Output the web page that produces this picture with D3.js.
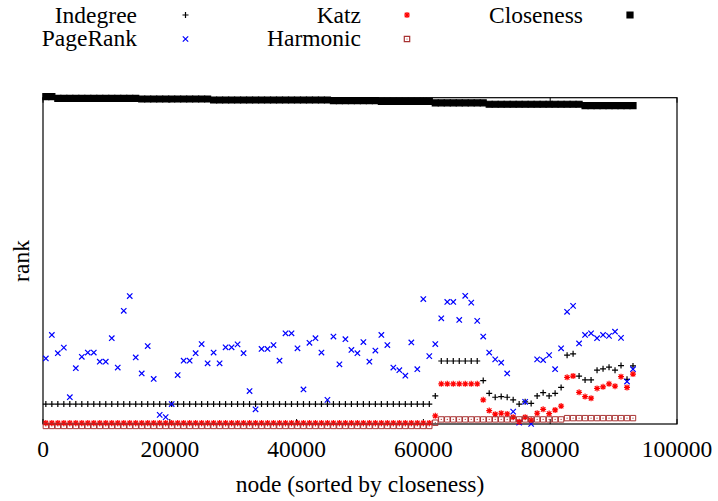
<!DOCTYPE html>
<html>
<head>
<meta charset="utf-8">
<script src="https://cdn.jsdelivr.net/npm/d3@7"></script>
<style>
  body { margin: 0; background: #fff; }
  svg, svg text { font-family: 'Liberation Serif', 'Times New Roman', 'DejaVu Serif', serif; }
</style>
</head>
<body>
<svg id="chart" width="718" height="501"></svg>
<script>
// sampled node positions (sorted by closeness)
const nodes = [
  450, 1395, 2340, 3285, 4230, 5175, 6120, 7065, 8010, 8955,
  9900, 10845, 11790, 12735, 13680, 14625, 15570, 16515, 17460, 18405,
  19350, 20295, 21240, 22185, 23130, 24075, 25020, 25965, 26910, 27855,
  28800, 29745, 30690, 31635, 32580, 33525, 34470, 35415, 36360, 37305,
  38250, 39195, 40140, 41085, 42030, 42975, 43920, 44865, 45810, 46755,
  47700, 48645, 49590, 50535, 51480, 52425, 53370, 54315, 55260, 56205,
  57150, 58095, 59040, 59985, 60930, 61875, 62820, 63765, 64710, 65655,
  66600, 67545, 68490, 69435, 70380, 71325, 72270, 73215, 74160, 75105,
  76050, 76995, 77940, 78885, 79830, 80775, 81720, 82665, 83610, 84555,
  85500, 86445, 87390, 88335, 89280, 90225, 91170, 92115, 93060
];

const indegree = [
  6.1, 6.1, 6.1, 6.1, 6.1, 6.1, 6.1, 6.1, 6.1, 6.1,
  6.1, 6.1, 6.1, 6.1, 6.1, 6.1, 6.1, 6.1, 6.1, 6.1,
  6.1, 6.1, 6.1, 6.1, 6.1, 6.1, 6.1, 6.1, 6.1, 6.1,
  6.1, 6.1, 6.1, 6.1, 6.1, 6.1, 6.1, 6.1, 6.1, 6.1,
  6.1, 6.1, 6.1, 6.1, 6.1, 6.1, 6.1, 6.1, 6.1, 6.1,
  6.1, 6.1, 6.1, 6.1, 6.1, 6.1, 6.1, 6.1, 6.1, 6.1,
  6.1, 6.1, 6.1, 6.1, 6.1, 8.6, 19.3, 19.3, 19.3, 19.3,
  19.3, 19.3, 19.3, 13.3, 9.4, 8.2, 8.4, 8.2, 7.4, 6.1,
  6.8, 6.3, 8.6, 9.6, 8.6, 9.4, 11.2, 21.1, 21.5, 14.7,
  13.5, 13.5, 16.5, 16.9, 17.4, 16.5, 17.9, 13.7, 17.8
];

const pagerank = [
  20.1, 27.3, 21.7, 23.4, 8.2, 17.1, 20.6, 21.9, 21.9, 19.1,
  19.1, 26.3, 17.3, 34.7, 39.2, 20.4, 15.5, 23.9, 13.8, 2.8,
  2.1, 6.1, 15.0, 19.4, 19.4, 21.7, 24.5, 18.6, 21.9, 18.6,
  23.5, 23.5, 24.4, 21.7, 10.1, 4.5, 23.0, 23.0, 24.2, 19.4,
  27.8, 27.8, 23.2, 10.6, 24.9, 26.3, 21.9, 7.4, 26.8, 18.3,
  26.0, 22.7, 21.7, 25.1, 19.1, 22.5, 27.3, 24.2, 17.3, 16.5,
  14.8, 25.0, 16.8, 38.3, 20.8, 24.5, 32.4, 37.4, 37.4, 31.9,
  39.3, 37.2, 31.6, 26.8, 21.9, 19.8, 18.8, 15.5, 3.8, 0.4,
  6.8, 0.0, 19.8, 19.6, 21.1, 16.8, 23.2, 34.4, 36.2, 24.7,
  27.3, 27.8, 26.3, 27.3, 27.0, 28.3, 26.4, 13.0, 16.8
];

const katz = [
  0.3, 0.3, 0.3, 0.3, 0.3, 0.3, 0.3, 0.3, 0.3, 0.3,
  0.3, 0.3, 0.3, 0.3, 0.3, 0.3, 0.3, 0.3, 0.3, 0.3,
  0.3, 0.3, 0.3, 0.3, 0.3, 0.3, 0.3, 0.3, 0.3, 0.3,
  0.3, 0.3, 0.3, 0.3, 0.3, 0.3, 0.3, 0.3, 0.3, 0.3,
  0.3, 0.3, 0.3, 0.3, 0.3, 0.3, 0.3, 0.3, 0.3, 0.3,
  0.3, 0.3, 0.3, 0.3, 0.3, 0.3, 0.3, 0.3, 0.3, 0.3,
  0.3, 0.3, 0.3, 0.3, 0.3, 2.5, 12.3, 12.3, 12.3, 12.3,
  12.3, 12.3, 12.3, 7.4, 4.1, 3.0, 3.3, 3.1, 2.1, 0.7,
  2.1, 1.2, 3.3, 4.5, 3.2, 4.3, 5.5, 14.3, 14.7, 9.7,
  8.4, 7.9, 10.9, 11.4, 12.3, 11.6, 14.5, 11.2, 15.3
];

const harmonic = [
  -0.6, -0.6, -0.6, -0.6, -0.6, -0.6, -0.6, -0.6, -0.6, -0.6,
  -0.6, -0.6, -0.6, -0.6, -0.6, -0.6, -0.6, -0.6, -0.6, -0.6,
  -0.6, -0.6, -0.6, -0.6, -0.6, -0.6, -0.6, -0.6, -0.6, -0.6,
  -0.6, -0.6, -0.6, -0.6, -0.6, -0.6, -0.6, -0.6, -0.6, -0.6,
  -0.6, -0.6, -0.6, -0.6, -0.6, -0.6, -0.6, -0.6, -0.6, -0.6,
  -0.6, -0.6, -0.6, -0.6, -0.6, -0.6, -0.6, -0.6, -0.6, -0.6,
  -0.6, -0.6, -0.6, -0.6, -0.6, 0.4, 1.4, 1.4, 1.4, 1.4,
  1.4, 1.4, 1.4, 1.4, 1.4, 1.4, 1.4, 1.4, 1.4, 1.4,
  1.4, 1.4, 1.4, 1.4, 1.4, 1.4, 1.4, 1.8, 1.8, 1.8,
  1.8, 1.8, 1.8, 1.8, 1.8, 1.8, 1.8, 1.8, 1.8
];

const closeness = [
  100.3, 100.3, 99.8, 99.8, 99.8, 99.8, 99.8, 99.8, 99.8, 99.8,
  99.8, 99.8, 99.8, 99.8, 99.8, 99.8, 99.6, 99.6, 99.6, 99.6,
  99.6, 99.6, 99.6, 99.6, 99.6, 99.6, 99.6, 99.6, 99.3, 99.3,
  99.3, 99.3, 99.3, 99.3, 99.3, 99.3, 99.3, 99.3, 99.3, 99.3,
  99.3, 99.3, 99.3, 99.3, 99.3, 99.3, 99.3, 99.3, 99.1, 99.1,
  99.1, 99.1, 99.1, 99.1, 99.1, 99.1, 98.9, 98.9, 98.9, 98.9,
  98.9, 98.9, 98.9, 98.9, 98.9, 98.4, 98.4, 98.4, 98.4, 98.4,
  98.4, 98.4, 98.4, 98.4, 98.0, 98.0, 98.0, 98.0, 98.0, 98.0,
  98.0, 98.0, 98.0, 98.0, 98.0, 98.0, 98.0, 98.0, 98.0, 98.0,
  97.6, 97.6, 97.6, 97.6, 97.6, 97.6, 97.6, 97.6, 97.6
];

const xTicks = [0, 20000, 40000, 60000, 80000, 100000];

// marker shapes, gnuplot style
const shape = {
  plus: s => `M${-s},0H${s}M0,${-s}V${s}`,
  cross: s => `M${-s},${-s}L${s},${s}M${-s},${s}L${s},${-s}`,
  star: s => `M${-s},0H${s}M0,${-s}V${s}M${-s * 0.75},${-s * 0.75}L${s * 0.75},${s * 0.75}M${-s * 0.75},${s * 0.75}L${s * 0.75},${-s * 0.75}`,
  box: s => `M${-s},${-s}H${s}V${s}H${-s}Z`
};

const series = [
  { name: "Indegree",  values: indegree,  kind: "plus",  size: 3,   color: "#000",    fill: "none", col: 0, row: 0 },
  { name: "PageRank",  values: pagerank,  kind: "cross", size: 2.7, color: "#0000ff", fill: "none", col: 0, row: 1 },
  { name: "Katz",      values: katz,      kind: "star",  size: 3,   color: "#ff0000", fill: "none", col: 1, row: 0 },
  { name: "Harmonic",  values: harmonic,  kind: "box",   size: 2.7, color: "#a83232", fill: "none", col: 1, row: 1 },
  { name: "Closeness", values: closeness, kind: "box",   size: 3,   color: "#000",    fill: "#000", col: 2, row: 0 }
];

const width = 718, height = 501;
const margin = { top: 97.7, right: 41, bottom: 77, left: 43 };
const font = "'Liberation Serif', 'Times New Roman', 'DejaVu Serif', serif";

const x = d3.scaleLinear().domain([0, 100000]).range([margin.left, width - margin.right]);
const y = d3.scaleLinear().domain([0, 100]).range([height - margin.bottom, margin.top]);

const svg = d3.select("#chart").attr("font-family", font);

// border
svg.append("rect")
  .attr("x", x(0)).attr("y", y(100))
  .attr("width", x(100000) - x(0)).attr("height", y(0) - y(100))
  .attr("fill", "none").attr("stroke", "#000").attr("stroke-width", 1.2);

// x ticks, inward and mirrored on top
const tickG = svg.append("g");
tickG.selectAll(".tb").data(xTicks).enter().append("line")
  .attr("x1", d => x(d)).attr("x2", d => x(d))
  .attr("y1", y(0)).attr("y2", y(0) - 5)
  .attr("stroke", "#000").attr("stroke-width", 1);
tickG.selectAll(".tt").data(xTicks).enter().append("line")
  .attr("x1", d => x(d)).attr("x2", d => x(d))
  .attr("y1", y(100)).attr("y2", y(100) + 5)
  .attr("stroke", "#000").attr("stroke-width", 1);
tickG.selectAll("text").data(xTicks).enter().append("text")
  .attr("x", d => x(d)).attr("y", 457)
  .attr("text-anchor", "middle")
  .attr("font-family", font)
  .attr("font-size", 23.5)
  .text(d => d);

// axis titles
svg.append("text")
  .attr("x", (x(0) + x(100000)) / 2).attr("y", 492)
  .attr("text-anchor", "middle").attr("font-size", 23.5)
  .attr("font-family", font)
  .text("node (sorted by closeness)");
svg.append("text")
  .attr("transform", "translate(29,261) rotate(-90)")
  .attr("text-anchor", "middle").attr("font-size", 23.5)
  .attr("font-family", font)
  .text("rank");

// points
series.forEach(s => {
  svg.append("g").selectAll("path")
    .data(s.values)
    .enter().append("path")
    .attr("transform", (d, i) => `translate(${x(nodes[i])},${y(d)})`)
    .attr("d", shape[s.kind](s.size))
    .attr("fill", s.fill)
    .attr("stroke", s.color)
    .attr("stroke-width", s.kind === "box" && s.fill === "none" ? 1 : 1.2);
  if (s.kind === "box" && s.fill === "none") {
    svg.append("g").selectAll("circle")
      .data(s.values)
      .enter().append("circle")
      .attr("cx", (d, i) => x(nodes[i])).attr("cy", d => y(d))
      .attr("r", 0.6).attr("fill", s.color);
  }
});

// legend
const colText = [137, 361, 583];
const colMark = [185.5, 407, 630];
const rowBase = [22.5, 45.5];
const rowMark = [15, 39];
const legend = svg.append("g");
series.forEach(s => {
  legend.append("text")
    .attr("x", colText[s.col]).attr("y", rowBase[s.row])
    .attr("text-anchor", "end").attr("font-size", 23.5)
    .attr("font-family", font)
    .text(s.name);
  legend.append("path")
    .attr("transform", `translate(${colMark[s.col]},${rowMark[s.row]})`)
    .attr("d", shape[s.kind](s.size))
    .attr("fill", s.fill)
    .attr("stroke", s.color)
    .attr("stroke-width", 1.2);
  if (s.kind === "box" && s.fill === "none") {
    legend.append("circle")
      .attr("cx", colMark[s.col]).attr("cy", rowMark[s.row])
      .attr("r", 0.6).attr("fill", s.color);
  }
});
</script>
</body>
</html>
